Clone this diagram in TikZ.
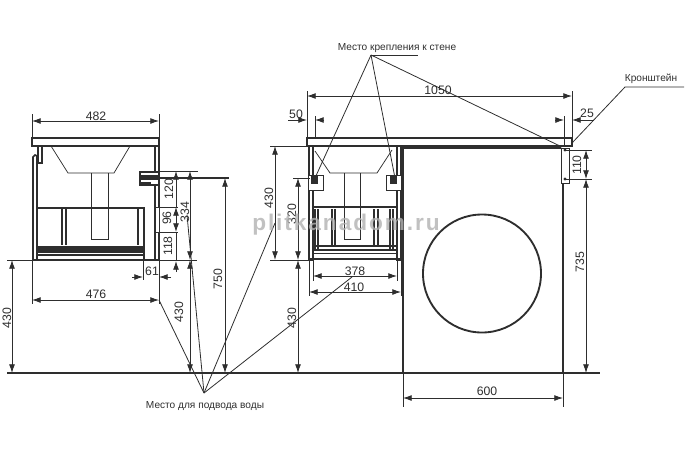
\documentclass[tikz,border=0pt]{standalone}
\usepackage{fontspec}
\setmainfont{Liberation Sans}
\usetikzlibrary{arrows.meta}
\colorlet{ink}{black!82}
\tikzset{
  x=0.75pt,y=-0.75pt,
  thin line/.style={line width=0.55pt,draw=ink},
  body/.style={line width=1.2pt,draw=ink},
  heavy/.style={line width=1.7pt,draw=ink},
  dim/.style={line width=0.6pt,draw=ink,{Latex[length=6.5pt,width=4.4pt]}-{Latex[length=6.5pt,width=4.4pt]}},
  tipend/.style={line width=0.6pt,draw=ink,-{Latex[length=6.5pt,width=4.4pt]}},
  ext/.style={line width=0.5pt,draw=ink},
  leader/.style={line width=0.6pt,draw=ink},
  lab/.style={inner sep=0pt,font=\fontsize{9.2pt}{10pt}\selectfont,text=ink},
  vlab/.style={lab,rotate=90},
  captext/.style={inner sep=0pt,font=\fontsize{7.6pt}{9pt}\selectfont,text=ink},
  marktext/.style={inner sep=0pt,font=\fontsize{17pt}{18pt}\selectfont\bfseries\addfontfeature{LetterSpace=8.5},text=black!30,opacity=0.8}
}
\begin{document}
\begin{tikzpicture}
\useasboundingbox (0,0) rectangle (691,450);
% ---------- coordinates for free ends
\coordinate (water) at (204,393);
\coordinate (mount) at (371,55);
\coordinate (brk) at (625,87);
% ---------- left cabinet
\draw[body] (32,138) rectangle (159,146);
\draw[heavy] (37,146) -- (159,146);
\draw[body] (33,157) -- (35,155) -- (37,156) -- (37,260) -- (33,260) -- cycle;
\draw[body] (38,146) -- (38,163) -- (42,163) -- (42,146);
\draw[body] (155,146) rectangle (159,260);
\draw[thin line] (51,146) -- (68,173) -- (114,173) -- (130,146);
\draw[thin line] (91,173) -- (91,239) -- (108,239) -- (108,173);
\draw[body] (38,208) -- (144,208) -- (144,260);
\draw[body] (62,208) -- (62,245) (66,208) -- (66,245);
\draw[body] (138,208) -- (138,245);
\draw[fill=ink,draw=ink] (38,246) rectangle (144,252);
\draw[body] (38,255) -- (144,255);
\draw[heavy] (37,260) -- (159,260);
\draw[heavy,fill=white] (140,172) rectangle (159,185);
\draw[fill=ink,draw=ink] (141,175) rectangle (157,179);
\draw[fill=ink,draw=ink] (141,182) rectangle (150,185);
\draw[thin line,fill=white] (155,207) rectangle (159,232);
\draw[ext] (159,207) -- (178,207) (159,232) -- (178,232);
% ---------- dimensions, left cabinet
\draw[ext] (32,114) -- (32,138) (159,114) -- (159,138);
\draw[dim] (32,121) -- (159,121);
\node[lab] (d482) at (96,116) {482};
\draw[ext] (32,260) -- (32,304) (159,260) -- (159,304);
\draw[dim] (32,300) -- (159,300);
\node[lab] (d476) at (96,294.5) {476};
\draw[ext] (143,260) -- (143,280);
\draw[tipend] (132,277) -- (143,277);
\draw[tipend] (171,277) -- (159,277);
\node[lab] (d61) at (152,271) {61};
\draw[ext] (160,171) -- (198,171);
\draw[line width=0.9pt,draw=ink] (160,178) -- (229,178);
\draw[tipend] (176,185) -- (176,171);
\draw[tipend] (176,220) -- (176,207);
\draw[tipend] (176,220) -- (176,232);
\draw[tipend] (176,272) -- (176,261);
\draw[ext] (176,185) -- (176,207) (176,232) -- (176,261);
\node[vlab] (d120) at (169,189) {120};
\node[vlab] (d96) at (167,218) {96};
\node[vlab] (d118) at (168,246) {118};
\draw[dim] (190,171) -- (190,260);
\node[vlab] (d334) at (185,212) {334};
\draw[dim] (190,260) -- (190,373);
\node[vlab] (d430b) at (179,312) {430};
\draw[dim] (225,178) -- (225,373);
\node[vlab] (d750) at (218,279) {750};
\draw[dim] (12,260) -- (12,373);
\node[vlab] (d430a) at (7,318) {430};
% ---------- right cabinet
\draw[body] (307,138) rectangle (572,146);
\draw[heavy] (307,146) -- (403,146);
\draw[body] (309,146) rectangle (313,260);
\draw[body] (397,146) rectangle (401,260);
\draw[thin line] (315,151) -- (330,173) -- (377,173) -- (392,150);
\draw[thin line] (344,173) -- (344,239) -- (360,239) -- (360,173);
\draw[thin line,fill=white] (308,175) rectangle (323,190);
\draw[thin line,fill=white] (386,175) rectangle (401,190);
\fill[ink] (311,176) rectangle (318,184);
\fill[ink] (390,176) rectangle (397,184);
\draw[body] (313,207) -- (397,207);
\draw[body] (315,209) -- (315,250) (318,209) -- (318,250);
\draw[body] (332,209) -- (332,245) (335,209) -- (335,245);
\draw[body] (374,209) -- (374,245) (378,209) -- (378,245);
\draw[body] (390,209) -- (390,250) (393,209) -- (393,250);
\draw[body] (313,246) -- (397,246);
\draw[body] (313,250) -- (397,250);
\draw[thin line] (313,253) -- (397,253);
\draw[heavy] (309,259) -- (401,259);
% ---------- washing machine
\draw[body] (403,146) -- (403,373);
\draw[body] (563,148) -- (563,373);
\draw[body] (403,148) -- (561,148);
\draw[line width=1.4pt,draw=ink] (482,273.5) circle [radius=59];
\draw[thin line,fill=white] (561,148) rectangle (569,183);
\fill[ink] (565,150) circle [radius=1.6] (565,179) circle [radius=1.6];
% ---------- floor
\draw[heavy] (7,373) -- (600,373);
\draw[thin line] (7,260) -- (197,260);
\draw[thin line] (270,260) -- (309,260);
% ---------- dimensions, right cabinet
\draw[ext] (307,91) -- (307,138) (572,91) -- (572,138);
\draw[dim] (307,96) -- (572,96);
\node[lab] (d1050) at (438,90) {1050};
\draw[ext] (315,116) -- (315,138);
\draw[tipend] (298,120) -- (307,120);
\draw[tipend] (324,120) -- (315,120);
\draw[ext] (288,120) -- (298,120);
\node[lab] (d50) at (296,114) {50};
\draw[ext] (564,116) -- (564,147);
\draw[tipend] (555,120) -- (564,120);
\draw[tipend] (594,120) -- (572,120);
\node[lab] (d25) at (587,113) {25};
\draw[ext] (270,146) -- (307,146);
\draw[dim] (275,146) -- (275,260);
\node[vlab] (d430c) at (269,198) {430};
\draw[ext] (293,178) -- (310,178);
\draw[dim] (298,178) -- (298,260);
\node[vlab] (d320) at (292,214) {320};
\draw[dim] (298,260) -- (298,373);
\node[vlab] (d430d) at (292,318) {430};
\draw[ext] (313,260) -- (313,281) (397,260) -- (397,281);
\draw[dim] (313,276) -- (397,276);
\node[lab] (d378) at (355,271) {378};
\draw[ext] (309,260) -- (309,296) (401,260) -- (401,296);
\draw[dim] (309,292) -- (401,292);
\node[lab] (d410) at (354,287) {410};
\draw[ext] (403,373) -- (403,407) (563,373) -- (563,407);
\draw[dim] (403,398) -- (563,398);
\node[lab] (d600) at (487,391) {600};
\draw[ext] (566,150) -- (592,150) (566,179) -- (592,179);
\draw[dim] (586,150) -- (586,179);
\node[vlab] (d110) at (577,165) {110};
\draw[dim] (586,179) -- (586,373);
\node[vlab] (d735) at (580,262) {735};
% ---------- leaders
\node[captext,anchor=base] (tmount) at (397,50) {Место крепления к стене};
\draw[leader] (mount) -- (418,55);
\draw[leader] (mount) -- (315,178);
\draw[leader] (mount) -- (395,178);
\draw[leader] (mount) -- (562,147);
\node[captext,anchor=base] (tbrk) at (651,81) {Кронштейн};
\draw[leader] (684,87) -- (brk) -- (572,143);
\node[captext,anchor=base] (twater) at (205,408.5) {Место для подвода воды};
\draw[leader] (water) -- (159,300);
\draw[leader] (water) -- (187,215);
\draw[leader] (water) -- (275,223);
\draw[leader] (water) -- (352,277);
% ---------- watermark
\node[marktext] (wm) at (346,225) {plitkanadom.ru};
\end{tikzpicture}
\end{document}
